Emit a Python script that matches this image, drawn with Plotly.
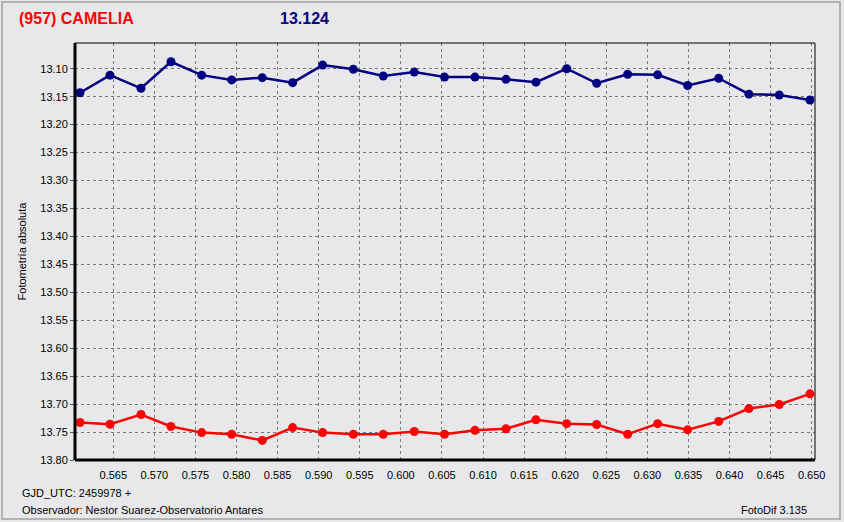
import plotly.graph_objects as go

# Data
jd_frac = [0.56095, 0.56460, 0.56837, 0.57202, 0.57576, 0.57941, 0.58313, 0.58683,
           0.59048, 0.59421, 0.59786, 0.60163, 0.60531, 0.60902, 0.61279, 0.61644,
           0.62018, 0.62383, 0.62760, 0.63125, 0.63490, 0.63868, 0.64236, 0.64605,
           0.64979]
target_mag = [13.143, 13.1115, 13.135, 13.0875, 13.1115, 13.120, 13.116, 13.125,
              13.0935, 13.101, 13.113, 13.106, 13.115, 13.115, 13.119, 13.124,
              13.100, 13.126, 13.110, 13.111, 13.130, 13.117, 13.1455, 13.147,
              13.156]
comp_mag = [13.733, 13.736, 13.7186, 13.740, 13.751, 13.754, 13.765, 13.742,
            13.751, 13.754, 13.754, 13.749, 13.754, 13.747, 13.744, 13.728,
            13.735, 13.7365, 13.754, 13.735, 13.746, 13.731, 13.708, 13.7007,
            13.6816]
x_ticks = [0.565, 0.570, 0.575, 0.580, 0.585, 0.590, 0.595, 0.600, 0.605, 0.610,
           0.615, 0.620, 0.625, 0.630, 0.635, 0.640, 0.645, 0.650]
y_ticks = [13.10, 13.15, 13.20, 13.25, 13.30, 13.35, 13.40, 13.45, 13.50, 13.55,
           13.60, 13.65, 13.70, 13.75, 13.80]

BG = "#e8e8ea"
FONT = "Liberation Sans"

fig = go.Figure()
fig.add_trace(go.Scatter(x=jd_frac, y=target_mag, mode="lines+markers",
                         line=dict(color="#000080", width=2.5),
                         marker=dict(color="#000080", size=9, symbol="circle"),
                         showlegend=False, hoverinfo="x+y"))
fig.add_trace(go.Scatter(x=jd_frac, y=comp_mag, mode="lines+markers",
                         line=dict(color="#ff0000", width=2.5),
                         marker=dict(color="#ff0000", size=9, symbol="circle"),
                         showlegend=False, hoverinfo="x+y"))

fig.update_layout(
    width=844, height=522,
    margin=dict(l=75, r=29, t=43, b=62),
    paper_bgcolor=BG, plot_bgcolor=BG,
    font=dict(family=FONT, size=11, color="#000000"),
    xaxis=dict(range=[0.56034, 0.6504], tickvals=x_ticks,
               ticktext=[f"{v:.3f}" for v in x_ticks],
               showgrid=True, gridcolor="#7a7a7a", griddash="3px,3px", gridwidth=1,
               zeroline=False, showline=False, ticks="", ticklabelstandoff=7,
               tickfont=dict(family=FONT, size=11, color="#000000")),
    yaxis=dict(range=[13.80, 13.054], tickvals=y_ticks,
               ticktext=[f"{v:.2f}" for v in y_ticks],
               showgrid=True, gridcolor="#7a7a7a", griddash="3px,3px", gridwidth=1,
               zeroline=False, showline=False, ticks="outside", ticklen=4,
               tickcolor="#606060", tickwidth=1,
               title=dict(text="Fotometría absoluta", standoff=11,
                          font=dict(family=FONT, size=11, color="#000000")),
               tickfont=dict(family=FONT, size=11, color="#000000")),
    shapes=[
        # figure border
        dict(type="rect", xref="paper", yref="paper",
             x0=-73 / 740, x1=1 + 25 / 740, y0=-59 / 417, y1=1 + 41 / 417,
             line=dict(color="#a0a0a0", width=1.5), fillcolor="rgba(0,0,0,0)",
             layer="below"),
        # plot frame (thin top/right)
        dict(type="rect", xref="paper", yref="paper", x0=0, x1=1, y0=0, y1=1,
             line=dict(color="#000000", width=1), fillcolor="rgba(0,0,0,0)"),
        # thick left axis
        dict(type="line", xref="paper", yref="paper", x0=0, x1=0, y0=0, y1=1,
             line=dict(color="#000000", width=3)),
        # thick bottom axis
        dict(type="line", xref="paper", yref="paper", x0=0, x1=1, y0=0, y1=0,
             line=dict(color="#000000", width=3)),
    ],
    annotations=[
        dict(text="<b>(957) CAMELIA</b>", xref="paper", yref="paper",
             x=-58 / 740, y=1 + 24 / 417, xanchor="left", yanchor="middle",
             showarrow=False, font=dict(family=FONT, size=16, color="#ff0000")),
        dict(text="<b>13.124</b>", xref="paper", yref="paper",
             x=203 / 740, y=1 + 24 / 417, xanchor="left", yanchor="middle",
             showarrow=False, font=dict(family=FONT, size=16, color="#000080")),
        dict(text="GJD_UTC: 2459978 +", xref="paper", yref="paper",
             x=-55 / 740, y=-33 / 417, xanchor="left", yanchor="middle",
             showarrow=False, font=dict(family=FONT, size=11, color="#000000")),
        dict(text="Observador: Nestor Suarez-Observatorio Antares", xref="paper",
             yref="paper", x=-55 / 740, y=-50 / 417, xanchor="left",
             yanchor="middle", showarrow=False,
             font=dict(family=FONT, size=11, color="#000000")),
        dict(text="FotoDif 3.135", xref="paper", yref="paper",
             x=1 - 6 / 740, y=-50 / 417, xanchor="right", yanchor="middle",
             showarrow=False, font=dict(family=FONT, size=11, color="#000000")),
    ],
)

fig.write_html("out.html", config={"displayModeBar": False},
               post_script="document.body.style.margin='0';document.body.style.background='#e8e8ea';")
